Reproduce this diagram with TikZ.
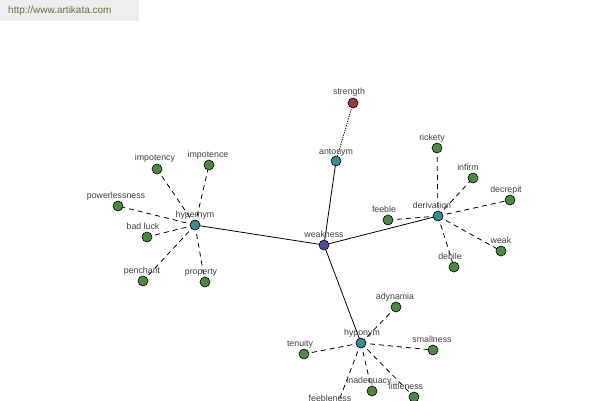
\documentclass[tikz,border=0pt]{standalone}
\usepackage{fontspec}
\setmainfont{Liberation Sans}
\definecolor{gnode}{HTML}{4A8A3E}
\definecolor{tnode}{HTML}{3A8A8E}
\definecolor{bnode}{HTML}{4A4A9A}
\definecolor{rnode}{HTML}{9A3A40}
\definecolor{txt}{HTML}{404040}
\definecolor{wm}{HTML}{5A7A3A}
\tikzset{
  vtx/.style={circle,draw=black,line width=0.6pt,minimum size=10pt,inner sep=0pt},
  gv/.style={vtx,fill=gnode},
  tv/.style={vtx,fill=tnode},
  bv/.style={vtx,fill=bnode},
  rv/.style={vtx,fill=rnode},
  lbl/.style={anchor=base,inner sep=0pt,text=txt,font=\fontsize{8.8}{10}\selectfont},
  solidedge/.style={line width=0.8pt},
  dashedge/.style={line width=0.8pt,dash pattern=on 5pt off 4pt},
  dotedge/.style={line width=0.8pt,dash pattern=on 1.2pt off 1.2pt}
}
\begin{document}
\begin{tikzpicture}[x=1pt,y=-1pt]
\useasboundingbox (0,0) rectangle (600,400);
\clip (0,0) rectangle (600,400);
\fill[white] (0,0) rectangle (600,400);
\fill[black!7] (0,0) rectangle (139,21);
\node[anchor=west,inner sep=0pt,text=wm,font=\fontsize{10}{12}\selectfont] (wmark) at (8,11) {http://www.artikata.com};
% coordinates
\coordinate (weakness) at (324,245);
\coordinate (antonym) at (336,161);
\coordinate (strength) at (353,103);
\coordinate (hypernym) at (195,225);
\coordinate (impotency) at (157,169);
\coordinate (impotence) at (209,165);
\coordinate (powerlessness) at (118,206);
\coordinate (badluck) at (147,237);
\coordinate (penchant) at (143,281);
\coordinate (property) at (205,282);
\coordinate (derivation) at (438,216);
\coordinate (rickety) at (437,148);
\coordinate (infirm) at (473,178);
\coordinate (decrepit) at (510,200);
\coordinate (feeble) at (388,220);
\coordinate (weak) at (501,251);
\coordinate (debile) at (454,267);
\coordinate (hyponym) at (361,343);
\coordinate (adynamia) at (396,307);
\coordinate (tenuity) at (304,354);
\coordinate (smallness) at (433,350);
\coordinate (inadequacy) at (372,391);
\coordinate (littleness) at (414,397);
\coordinate (feebleness) at (335,411);
% edges
\draw[solidedge] (weakness) -- (antonym);
\draw[solidedge] (weakness) -- (hypernym);
\draw[solidedge] (weakness) -- (derivation);
\draw[solidedge] (weakness) -- (hyponym);
\draw[dotedge] (antonym) -- (strength);
\foreach \t in {impotency,impotence,powerlessness,badluck,penchant,property}
  \draw[dashedge] (hypernym) -- (\t);
\foreach \t in {rickety,infirm,decrepit,feeble,weak,debile}
  \draw[dashedge] (derivation) -- (\t);
\foreach \t in {adynamia,tenuity,smallness,inadequacy,littleness,feebleness}
  \draw[dashedge] (hyponym) -- (\t);
% vertices
\node[bv] (nweakness) at (weakness) {};
\node[tv] (nantonym) at (antonym) {};
\node[rv] (nstrength) at (strength) {};
\node[tv] (nhypernym) at (hypernym) {};
\node[tv] (nderivation) at (derivation) {};
\node[tv] (nhyponym) at (hyponym) {};
\foreach \t in {impotency,impotence,powerlessness,badluck,penchant,property,rickety,infirm,decrepit,feeble,weak,debile,adynamia,tenuity,smallness,inadequacy,littleness,feebleness}
  \node[gv] (n\t) at (\t) {};
% labels
\node[lbl] (lweakness) at (324,237.5) {weakness};
\node[lbl] (lantonym) at (336,154) {antonym};
\node[lbl] (lstrength) at (349,94.5) {strength};
\node[lbl] (lhypernym) at (195,217.5) {hypernym};
\node[lbl] (limpotency) at (155,160.5) {impotency};
\node[lbl] (limpotence) at (208,157) {impotence};
\node[lbl] (lpowerlessness) at (116,198) {powerlessness};
\node[lbl] (lbadluck) at (143,229) {bad luck};
\node[lbl] (lpenchant) at (142,273.5) {penchant};
\node[lbl] (lproperty) at (201,274) {property};
\node[lbl] (lderivation) at (432,208.5) {derivation};
\node[lbl] (lrickety) at (432,140.5) {rickety};
\node[lbl] (linfirm) at (468,170.5) {infirm};
\node[lbl] (ldecrepit) at (506,192) {decrepit};
\node[lbl] (lfeeble) at (384,212.5) {feeble};
\node[lbl] (lweak) at (501,243.5) {weak};
\node[lbl] (ldebile) at (450,259.5) {debile};
\node[lbl] (lhyponym) at (362,335.5) {hyponym};
\node[lbl] (ladynamia) at (395,299.5) {adynamia};
\node[lbl] (ltenuity) at (300,346.5) {tenuity};
\node[lbl] (lsmallness) at (432,342) {smallness};
\node[lbl] (linadequacy) at (369,383.5) {inadequacy};
\node[lbl] (llittleness) at (406,389.5) {littleness};
\node[lbl] (lfeebleness) at (330,401) {feebleness};
\end{tikzpicture}
\end{document}
